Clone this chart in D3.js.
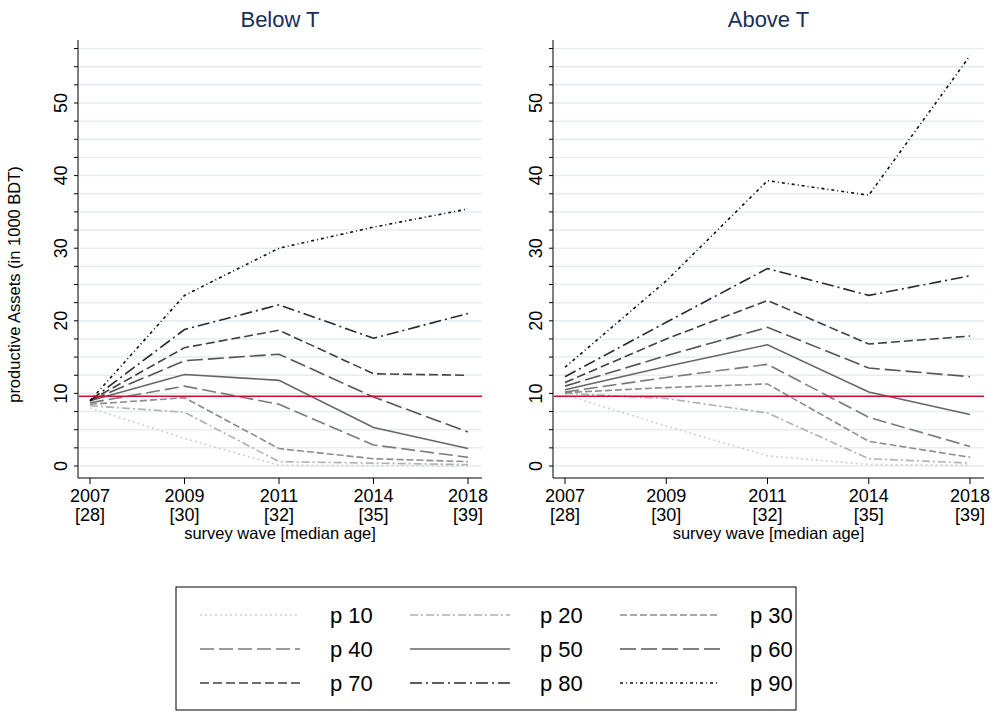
<!DOCTYPE html>
<html>
<head>
<meta charset="utf-8">
<script src="https://cdn.jsdelivr.net/npm/d3@7"></script>
<style>body{margin:0;background:#fff;font-family:"Liberation Sans",Arial,sans-serif;}</style>
</head>
<body>
<svg id="svg" width="997" height="713"></svg>
<script>
const waves = ["2007", "2009", "2011", "2014", "2018"];
const ages = ["[28]", "[30]", "[32]", "[35]", "[39]"];
const percentiles = ["p 10", "p 20", "p 30", "p 40", "p 50", "p 60", "p 70", "p 80", "p 90"];
const threshold = 9.6;

// values per percentile, by wave
const belowT = [
  [8.0, 3.8, 0.1, 0.05, 0.05],
  [8.3, 7.4, 0.6, 0.4, 0.2],
  [8.5, 9.4, 2.4, 1.0, 0.6],
  [8.7, 11.0, 8.5, 2.9, 1.2],
  [9.0, 12.6, 11.8, 5.3, 2.4],
  [9.0, 14.5, 15.4, 9.5, 4.7],
  [9.0, 16.3, 18.7, 12.7, 12.5],
  [9.0, 18.8, 22.2, 17.6, 21.0],
  [9.0, 23.5, 30.0, 32.9, 35.4]
];
const aboveT = [
  [9.8, 5.5, 1.4, 0.2, 0.1],
  [10.0, 9.3, 7.3, 1.0, 0.4],
  [10.1, 10.8, 11.3, 3.4, 1.2],
  [10.2, 12.2, 14.0, 6.7, 2.7],
  [10.5, 13.7, 16.7, 10.2, 7.1],
  [11.0, 15.2, 19.1, 13.5, 12.3],
  [11.5, 17.5, 22.8, 16.8, 17.9],
  [12.3, 19.8, 27.2, 23.5, 26.2],
  [13.6, 25.5, 39.3, 37.3, 56.5]
];

const colors = ["#d0d0d0", "#b0b0b0", "#8c8c8c", "#7a7a7a", "#666666", "#555555", "#404040", "#2a2a2a", "#111111"];
const dashes = ["2,3,2,3", "8,3,2,3", "7,3", "14,5", null, "16,5", "9,4", "12,4,2,4", "3,3,1,3"];

const svg = d3.select("#svg");
const y = d3.scaleLinear().domain([0, 50]).range([466, 103]);

function panel(data, title, axisX, x0, x1, right, showYLabel) {
  const x = d3.scalePoint().domain(waves).range([x0, x1]);
  const g = svg.append("g");
  // grid
  g.selectAll(".grid").data(d3.range(0, 57.6, 2.5)).enter().append("line")
    .attr("x1", axisX + 1).attr("x2", right)
    .attr("y1", d => y(d)).attr("y2", d => y(d))
    .attr("stroke", "#e6edf1").attr("stroke-width", 1.5);
  // y axis
  g.append("line").attr("x1", axisX).attr("x2", axisX).attr("y1", 40).attr("y2", 478).attr("stroke", "#000");
  g.selectAll(".mt").data(d3.range(0, 57.6, 2.5)).enter().append("line")
    .attr("x1", axisX - 4).attr("x2", axisX).attr("y1", d => y(d)).attr("y2", d => y(d)).attr("stroke", "#000");
  g.selectAll(".yt").data([0, 10, 20, 30, 40, 50]).enter().append("text")
    .attr("transform", d => `translate(${axisX - 11},${y(d)}) rotate(-90)`)
    .attr("text-anchor", "middle").attr("font-size", 18).text(d => d);
  // x axis
  g.append("line").attr("x1", axisX).attr("x2", right).attr("y1", 478).attr("y2", 478).attr("stroke", "#000");
  waves.forEach((w, i) => {
    g.append("line").attr("x1", x(w)).attr("x2", x(w)).attr("y1", 478).attr("y2", 484).attr("stroke", "#000");
    g.append("text").attr("x", x(w)).attr("y", 502).attr("text-anchor", "middle").attr("font-size", 18).text(w);
    g.append("text").attr("x", x(w)).attr("y", 521).attr("text-anchor", "middle").attr("font-size", 18).text(ages[i]);
  });
  g.append("text").attr("x", (axisX + right) / 2).attr("y", 539).attr("text-anchor", "middle").attr("font-size", 16.5).text("survey wave [median age]");
  g.append("text").attr("x", (axisX + right) / 2).attr("y", 27).attr("text-anchor", "middle").attr("font-size", 22).attr("fill", "#1a2e5a").text(title);
  // series
  const line = d3.line().x((d, i) => x(waves[i])).y(d => y(d));
  data.forEach((s, k) => {
    g.append("path").attr("d", line(s)).attr("fill", "none")
      .attr("stroke", colors[k]).attr("stroke-width", 1.6)
      .attr("stroke-dasharray", dashes[k]);
  });
  g.append("line").attr("x1", axisX + 1).attr("x2", right).attr("y1", y(threshold)).attr("y2", y(threshold))
    .attr("stroke", "#c8102e").attr("stroke-width", 1.6);
  if (showYLabel) {
    svg.append("text").attr("transform", `translate(20,${y(25)}) rotate(-90)`)
      .attr("text-anchor", "middle").attr("font-size", 16.5).text("productive Assets (in 1000 BDT)");
  }
}

panel(belowT, "Below T", 78, 90, 468, 482, true);
panel(aboveT, "Above T", 553, 565, 970, 984, false);

// legend
const lg = svg.append("g").attr("transform", "translate(176,587)");
lg.append("rect").attr("width", 620).attr("height", 123).attr("fill", "#fff").attr("stroke", "#000");
percentiles.forEach((p, k) => {
  const cx = 24 + (k % 3) * 210, cy = 28 + Math.floor(k / 3) * 34;
  lg.append("line").attr("x1", cx).attr("x2", cx + 100).attr("y1", cy).attr("y2", cy)
    .attr("stroke", colors[k]).attr("stroke-width", 1.6).attr("stroke-dasharray", dashes[k]);
  lg.append("text").attr("x", cx + 130).attr("y", cy + 8).attr("font-size", 22).text(p);
});
</script>
</body>
</html>
